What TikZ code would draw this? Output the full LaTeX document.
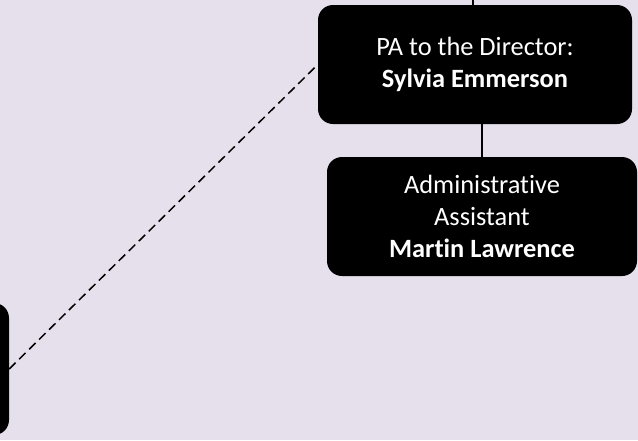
\documentclass[tikz,border=0pt]{standalone}
\usepackage{fontspec}
\setmainfont[Ligatures=NoCommon]{Carlito}
\definecolor{lavender}{HTML}{E5E0EC}
\begin{document}
\begin{tikzpicture}[x=1pt, y=-1pt,
    orgbox/.style={fill=black, text=white, rounded corners=15pt, align=center,
        inner sep=0pt, font=\fontsize{26.4}{32}\selectfont},
    link/.style={line width=1.3pt}]
    \fill[lavender] (0,0) rectangle (638,440);
    \useasboundingbox (0,0) rectangle (638,440);
    \clip (0,0) rectangle (638,440);
    
    \node[orgbox, minimum width=314pt, minimum height=119pt] (pa) at (475,64.5) {PA to the Director:\\\textbf{Sylvia Emmerson}};
    \node[orgbox, minimum width=310pt, minimum height=119pt] (admin) at (482,216.5) {Administrative\\Assistant\\\textbf{Martin Lawrence}};
    \node[orgbox, minimum width=159pt, minimum height=132pt] (left) at (-70.5,369) {};
    
    \coordinate (top) at (473,0);
    
    \draw[link] (top) -- (top |- pa.north);
    \draw[link] (admin.north) -- (admin.north |- pa.south);
    \draw[link, line width=1.5pt, dash pattern=on 9pt off 5pt] (left.east) -- (pa.west);
\end{tikzpicture}
\end{document}
